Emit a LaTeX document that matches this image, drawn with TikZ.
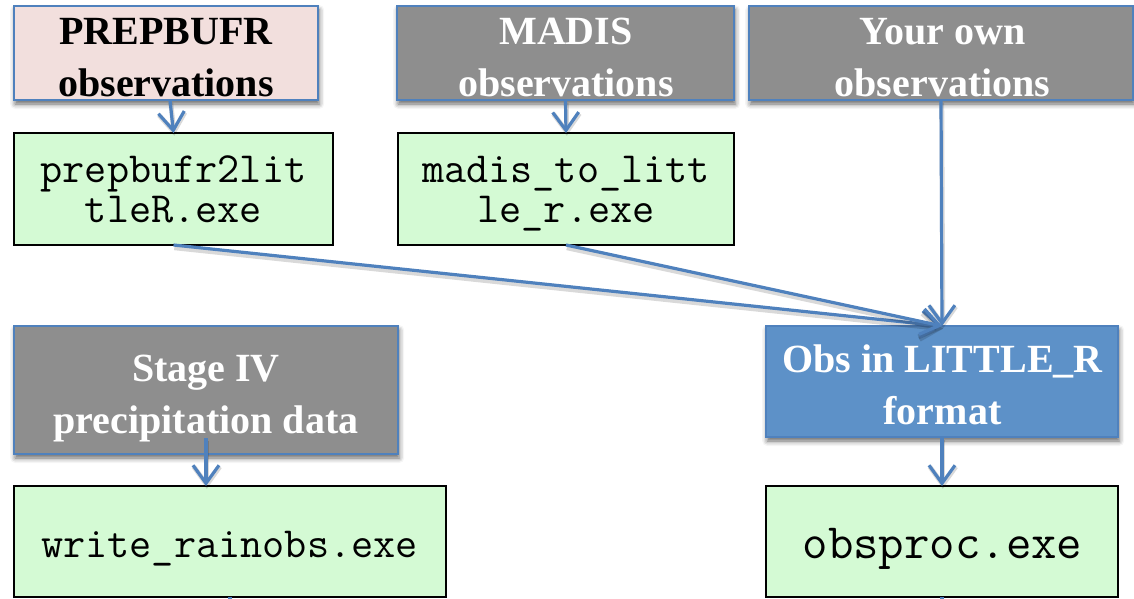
\documentclass[tikz,border=0pt]{standalone}
\usepackage{fontspec}
\newfontfamily\titlefont{Liberation Serif}
\usetikzlibrary{arrows.meta,shadows.blur,calc}

\definecolor{edgeblue}{HTML}{4F81BD}
\definecolor{fillblue}{HTML}{5D91C8}
\definecolor{srcgray}{HTML}{8E8E8E}
\definecolor{srcpink}{HTML}{F2DFDD}
\definecolor{exegreen}{HTML}{D4FAD4}

\tikzset{
  box/.style 2 args={inner sep=0pt, outer sep=0pt,
    minimum width=#1*0.5pt, minimum height=#2*0.5pt},
  source/.style={draw=edgeblue, line width=1pt,
    blur shadow={shadow xshift=0.6pt, shadow yshift=-2pt,
      shadow blur radius=2.5pt, shadow opacity=60}},
  exebox/.style={draw=black, line width=1pt, fill=exegreen},
  title/.style={font=\titlefont\bfseries\fontsize{20}{26}\selectfont,
    align=center, inner sep=0pt},
  code/.style={font=\ttfamily\fontsize{21.5}{20}\selectfont,
    align=center, inner sep=0pt},
  flow/.style={draw=edgeblue, line width=1.6pt,
    -{Straight Barb[length=9pt, width=13pt]},
    preaction={draw=black, opacity=0.15, line width=2.4pt,
      transform canvas={xshift=0.4pt, yshift=-1.4pt}}}
}

\begin{document}
\begin{tikzpicture}[x=0.5pt, y=-0.5pt]
\useasboundingbox (0,0) rectangle (1134,599);

% observation sources
\node[box={304}{94}, source, fill=srcpink] (pre) at (166,53) {};
\node[title, text=black] (pre-t) at (166,57.8) {PREPBUFR\\observations};

\node[box={337}{94}, source, fill=srcgray] (madis) at (565.5,53) {};
\node[title, text=white] (madis-t) at (566,57.8) {MADIS\\observations};

\node[box={384}{94}, source, fill=srcgray] (own) at (941,53) {};
\node[title, text=white] (own-t) at (942.5,57.8) {Your own\\observations};

\node[box={384}{128}, source, fill=srcgray] (stage) at (206,390) {};
\node[title, text=white] (stage-t) at (206,398.5) {Stage IV\\precipitation data};

\node[box={352}{111}, source, fill=fillblue] (lr) at (942,381.5) {};
\node[title, text=white] (lr-t) at (942.5,384.5) {Obs in LITTLE\_R\\format};

% converters
\node[box={319}{112}, exebox] (pexe) at (173.5,189) {};
\node[code] (pexe-t) at (173.5,189.2) {prepbufr2lit\\tleR.exe};

\node[box={336}{112}, exebox] (mexe) at (566,189) {};
\node[code] (mexe-t) at (566,189.2) {madis\_to\_litt\\le\smash{\_}r.exe};

\node[box={432}{111}, exebox] (wexe) at (230,541.5) {};
\node[code, anchor=base] (wexe-t) at (229.5,557) {write\_rainobs.exe};

\node[box={352}{111}, exebox] (oexe) at (942,541.5) {};
\node[code, anchor=base, font=\ttfamily\fontsize{24.7}{25}\selectfont]
  (oexe-t) at (942.5,558) {obsproc.exe};

% continuations below the converters
\coordinate (wout) at (230,630);
\coordinate (oout) at (942,630);

% data flow
\draw[flow] ([xshift=2pt]pre.south) -- (pexe.north);
\draw[flow] (madis.south) -- (mexe.north);
\draw[flow] (own.south) -- (lr.north);
\draw[flow] ([yshift=8pt]stage.south) -- (stage.south |- wexe.north);
\draw[flow] (lr.south) -- (oexe.north);
\draw[flow] (pexe.south) -- (lr.north);
\draw[flow] (mexe.south) -- (lr.north);
\draw[draw=edgeblue, line width=1.6pt] (wexe.south) -- (wout);
\draw[draw=edgeblue, line width=1.6pt] (oexe.south) -- (oout);
\end{tikzpicture}
\end{document}
